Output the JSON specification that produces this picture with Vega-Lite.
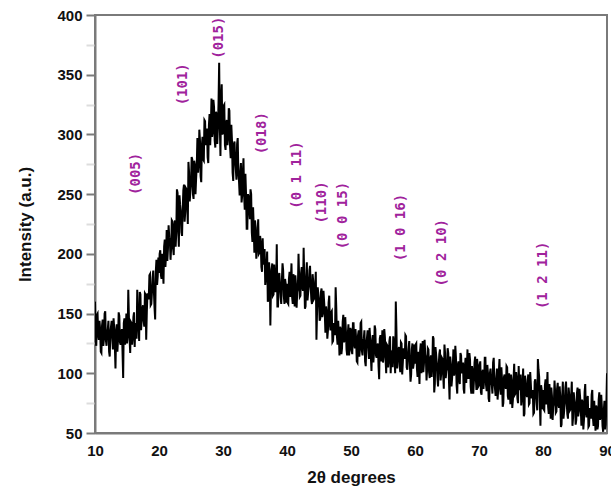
{
  "$schema": "https://vega.github.io/schema/vega-lite/v6.json",
  "width": 512,
  "height": 418,
  "autosize": {"type": "none"},
  "padding": {"left": 95, "top": 15, "right": 4, "bottom": 56},
  "background": "white",
  "config": {
    "view": {"stroke": "#7a7a7a", "strokeWidth": 2},
    "axis": {"labelFont": "Liberation Sans", "titleFont": "Liberation Sans", "labelFontWeight": "bold", "titleFontWeight": "bold", "labelColor": "#111", "titleColor": "#111", "domainColor": "#7a7a7a", "domainWidth": 2, "grid": false}
  },
  "datasets": {
    "xrd": [
{"deg":10.0,"cps":160},{"deg":10.2,"cps":123},{"deg":10.4,"cps":150},{"deg":10.6,"cps":128},{"deg":10.8,"cps":137},
{"deg":11.0,"cps":117},{"deg":11.2,"cps":145},{"deg":11.4,"cps":129},{"deg":11.6,"cps":152},{"deg":11.8,"cps":123},
{"deg":12.0,"cps":137},{"deg":12.2,"cps":118},{"deg":12.4,"cps":134},{"deg":12.6,"cps":144},{"deg":12.8,"cps":120},
{"deg":13.0,"cps":138},{"deg":13.2,"cps":104},{"deg":13.4,"cps":141},{"deg":13.6,"cps":129},{"deg":13.8,"cps":148},
{"deg":14.0,"cps":124},{"deg":14.2,"cps":137},{"deg":14.4,"cps":96},{"deg":14.6,"cps":146},{"deg":14.8,"cps":133},
{"deg":15.0,"cps":125},{"deg":15.2,"cps":170},{"deg":15.4,"cps":129},{"deg":15.6,"cps":143},{"deg":15.8,"cps":124},
{"deg":16.0,"cps":147},{"deg":16.2,"cps":122},{"deg":16.4,"cps":142},{"deg":16.6,"cps":170},{"deg":16.8,"cps":139},
{"deg":17.0,"cps":168},{"deg":17.2,"cps":136},{"deg":17.4,"cps":154},{"deg":17.6,"cps":144},{"deg":17.8,"cps":167},
{"deg":18.0,"cps":128},{"deg":18.2,"cps":167},{"deg":18.4,"cps":162},{"deg":18.6,"cps":183},{"deg":18.8,"cps":158},
{"deg":19.0,"cps":180},{"deg":19.2,"cps":169},{"deg":19.4,"cps":145},{"deg":19.6,"cps":195},{"deg":19.8,"cps":181},
{"deg":20.0,"cps":184},{"deg":20.2,"cps":203},{"deg":20.4,"cps":179},{"deg":20.6,"cps":189},{"deg":20.8,"cps":206},
{"deg":21.0,"cps":189},{"deg":21.2,"cps":220},{"deg":21.4,"cps":204},{"deg":21.6,"cps":214},{"deg":21.8,"cps":195},
{"deg":22.0,"cps":228},{"deg":22.2,"cps":205},{"deg":22.4,"cps":224},{"deg":22.6,"cps":206},{"deg":22.8,"cps":254},
{"deg":23.0,"cps":221},{"deg":23.2,"cps":249},{"deg":23.4,"cps":235},{"deg":23.6,"cps":215},{"deg":23.8,"cps":253},
{"deg":24.0,"cps":227},{"deg":24.2,"cps":255},{"deg":24.4,"cps":241},{"deg":24.6,"cps":277},{"deg":24.8,"cps":244},
{"deg":25.0,"cps":259},{"deg":25.2,"cps":279},{"deg":25.4,"cps":246},{"deg":25.6,"cps":275},{"deg":25.8,"cps":263},
{"deg":26.0,"cps":297},{"deg":26.2,"cps":275},{"deg":26.4,"cps":295},{"deg":26.6,"cps":260},{"deg":26.8,"cps":298},
{"deg":27.0,"cps":278},{"deg":27.2,"cps":311},{"deg":27.4,"cps":299},{"deg":27.6,"cps":281},{"deg":27.8,"cps":308},
{"deg":28.0,"cps":291},{"deg":28.2,"cps":330},{"deg":28.4,"cps":302},{"deg":28.6,"cps":323},{"deg":28.8,"cps":289},
{"deg":29.0,"cps":317},{"deg":29.2,"cps":305},{"deg":29.4,"cps":360},{"deg":29.6,"cps":282},{"deg":29.8,"cps":342},
{"deg":30.0,"cps":302},{"deg":30.2,"cps":325},{"deg":30.4,"cps":287},{"deg":30.6,"cps":312},{"deg":30.8,"cps":297},
{"deg":31.0,"cps":320},{"deg":31.2,"cps":280},{"deg":31.4,"cps":295},{"deg":31.6,"cps":261},{"deg":31.8,"cps":294},
{"deg":32.0,"cps":271},{"deg":32.2,"cps":292},{"deg":32.4,"cps":267},{"deg":32.6,"cps":249},{"deg":32.8,"cps":276},
{"deg":33.0,"cps":249},{"deg":33.2,"cps":280},{"deg":33.4,"cps":237},{"deg":33.6,"cps":250},{"deg":33.8,"cps":221},
{"deg":34.0,"cps":248},{"deg":34.2,"cps":229},{"deg":34.4,"cps":250},{"deg":34.6,"cps":210},{"deg":34.8,"cps":223},
{"deg":35.0,"cps":228},{"deg":35.2,"cps":196},{"deg":35.4,"cps":217},{"deg":35.6,"cps":200},{"deg":35.8,"cps":215},
{"deg":36.0,"cps":189},{"deg":36.2,"cps":213},{"deg":36.4,"cps":191},{"deg":36.6,"cps":174},{"deg":36.8,"cps":190},
{"deg":37.0,"cps":160},{"deg":37.2,"cps":193},{"deg":37.4,"cps":140},{"deg":37.6,"cps":187},{"deg":37.8,"cps":165},
{"deg":38.0,"cps":191},{"deg":38.2,"cps":168},{"deg":38.4,"cps":208},{"deg":38.6,"cps":156},{"deg":38.8,"cps":184},
{"deg":39.0,"cps":164},{"deg":39.2,"cps":178},{"deg":39.4,"cps":186},{"deg":39.6,"cps":158},{"deg":39.8,"cps":175},
{"deg":40.0,"cps":175},{"deg":40.2,"cps":158},{"deg":40.4,"cps":185},{"deg":40.6,"cps":178},{"deg":40.8,"cps":164},
{"deg":41.0,"cps":183},{"deg":41.2,"cps":156},{"deg":41.4,"cps":175},{"deg":41.6,"cps":168},{"deg":41.8,"cps":200},
{"deg":42.0,"cps":164},{"deg":42.2,"cps":184},{"deg":42.4,"cps":172},{"deg":42.6,"cps":205},{"deg":42.8,"cps":154},
{"deg":43.0,"cps":181},{"deg":43.2,"cps":161},{"deg":43.4,"cps":173},{"deg":43.6,"cps":190},{"deg":43.8,"cps":162},
{"deg":44.0,"cps":183},{"deg":44.2,"cps":162},{"deg":44.4,"cps":173},{"deg":44.6,"cps":128},{"deg":44.8,"cps":172},
{"deg":45.0,"cps":161},{"deg":45.2,"cps":146},{"deg":45.4,"cps":171},{"deg":45.6,"cps":150},{"deg":45.8,"cps":160},
{"deg":46.0,"cps":134},{"deg":46.2,"cps":151},{"deg":46.4,"cps":136},{"deg":46.6,"cps":165},{"deg":46.8,"cps":136},
{"deg":47.0,"cps":152},{"deg":47.2,"cps":127},{"deg":47.4,"cps":137},{"deg":47.6,"cps":172},{"deg":47.8,"cps":131},
{"deg":48.0,"cps":144},{"deg":48.2,"cps":115},{"deg":48.4,"cps":137},{"deg":48.6,"cps":121},{"deg":48.8,"cps":149},
{"deg":49.0,"cps":128},{"deg":49.2,"cps":136},{"deg":49.4,"cps":115},{"deg":49.6,"cps":141},{"deg":49.8,"cps":121},
{"deg":50.0,"cps":136},{"deg":50.2,"cps":116},{"deg":50.4,"cps":142},{"deg":50.6,"cps":121},{"deg":50.8,"cps":129},
{"deg":51.0,"cps":109},{"deg":51.2,"cps":136},{"deg":51.4,"cps":121},{"deg":51.6,"cps":143},{"deg":51.8,"cps":115},
{"deg":52.0,"cps":129},{"deg":52.2,"cps":110},{"deg":52.4,"cps":125},{"deg":52.6,"cps":136},{"deg":52.8,"cps":112},
{"deg":53.0,"cps":129},{"deg":53.2,"cps":102},{"deg":53.4,"cps":132},{"deg":53.6,"cps":118},{"deg":53.8,"cps":137},
{"deg":54.0,"cps":113},{"deg":54.2,"cps":125},{"deg":54.4,"cps":95},{"deg":54.6,"cps":132},{"deg":54.8,"cps":119},
{"deg":55.0,"cps":109},{"deg":55.2,"cps":137},{"deg":55.4,"cps":112},{"deg":55.6,"cps":124},{"deg":55.8,"cps":105},
{"deg":56.0,"cps":127},{"deg":56.2,"cps":100},{"deg":56.4,"cps":118},{"deg":56.6,"cps":131},{"deg":56.8,"cps":112},
{"deg":57.0,"cps":160},{"deg":57.2,"cps":104},{"deg":57.4,"cps":119},{"deg":57.6,"cps":106},{"deg":57.8,"cps":126},
{"deg":58.0,"cps":99},{"deg":58.2,"cps":121},{"deg":58.4,"cps":112},{"deg":58.6,"cps":131},{"deg":58.8,"cps":103},
{"deg":59.0,"cps":121},{"deg":59.2,"cps":107},{"deg":59.4,"cps":99},{"deg":59.6,"cps":125},{"deg":59.8,"cps":108},
{"deg":60.0,"cps":108},{"deg":60.2,"cps":125},{"deg":60.4,"cps":97},{"deg":60.6,"cps":105},{"deg":60.8,"cps":119},
{"deg":61.0,"cps":100},{"deg":61.2,"cps":127},{"deg":61.4,"cps":108},{"deg":61.6,"cps":116},{"deg":61.8,"cps":94},
{"deg":62.0,"cps":121},{"deg":62.2,"cps":101},{"deg":62.4,"cps":112},{"deg":62.6,"cps":97},{"deg":62.8,"cps":131},
{"deg":63.0,"cps":84},{"deg":63.2,"cps":122},{"deg":63.4,"cps":109},{"deg":63.6,"cps":89},{"deg":63.8,"cps":116},
{"deg":64.0,"cps":94},{"deg":64.2,"cps":113},{"deg":64.4,"cps":99},{"deg":64.6,"cps":124},{"deg":64.8,"cps":96},
{"deg":65.0,"cps":104},{"deg":65.2,"cps":117},{"deg":65.4,"cps":78},{"deg":65.6,"cps":108},{"deg":65.8,"cps":96},
{"deg":66.0,"cps":120},{"deg":66.2,"cps":101},{"deg":66.4,"cps":113},{"deg":66.6,"cps":83},{"deg":66.8,"cps":110},
{"deg":67.0,"cps":91},{"deg":67.2,"cps":115},{"deg":67.4,"cps":104},{"deg":67.6,"cps":87},{"deg":67.8,"cps":106},
{"deg":68.0,"cps":92},{"deg":68.2,"cps":120},{"deg":68.4,"cps":96},{"deg":68.6,"cps":111},{"deg":68.8,"cps":83},
{"deg":69.0,"cps":102},{"deg":69.2,"cps":93},{"deg":69.4,"cps":114},{"deg":69.6,"cps":86},{"deg":69.8,"cps":106},
{"deg":70.0,"cps":90},{"deg":70.2,"cps":110},{"deg":70.4,"cps":82},{"deg":70.6,"cps":103},{"deg":70.8,"cps":94},
{"deg":71.0,"cps":113},{"deg":71.2,"cps":85},{"deg":71.4,"cps":100},{"deg":71.6,"cps":76},{"deg":71.8,"cps":104},
{"deg":72.0,"cps":90},{"deg":72.2,"cps":109},{"deg":72.4,"cps":92},{"deg":72.6,"cps":81},{"deg":72.8,"cps":104},
{"deg":73.0,"cps":86},{"deg":73.2,"cps":112},{"deg":73.4,"cps":82},{"deg":73.6,"cps":94},{"deg":73.8,"cps":75},
{"deg":74.0,"cps":99},{"deg":74.2,"cps":87},{"deg":74.4,"cps":105},{"deg":74.6,"cps":78},{"deg":74.8,"cps":91},
{"deg":75.0,"cps":99},{"deg":75.2,"cps":71},{"deg":75.4,"cps":96},{"deg":75.6,"cps":82},{"deg":75.8,"cps":101},
{"deg":76.0,"cps":79},{"deg":76.2,"cps":106},{"deg":76.4,"cps":86},{"deg":76.6,"cps":73},{"deg":76.8,"cps":92},
{"deg":77.0,"cps":64},{"deg":77.2,"cps":98},{"deg":77.4,"cps":83},{"deg":77.6,"cps":94},{"deg":77.8,"cps":74},
{"deg":78.0,"cps":101},{"deg":78.2,"cps":79},{"deg":78.4,"cps":86},{"deg":78.6,"cps":67},{"deg":78.8,"cps":95},
{"deg":79.0,"cps":75},{"deg":79.2,"cps":112},{"deg":79.4,"cps":97},{"deg":79.6,"cps":56},{"deg":79.8,"cps":86},
{"deg":80.0,"cps":86},{"deg":80.2,"cps":69},{"deg":80.4,"cps":95},{"deg":80.6,"cps":87},{"deg":80.8,"cps":72},
{"deg":81.0,"cps":91},{"deg":81.2,"cps":62},{"deg":81.4,"cps":81},{"deg":81.6,"cps":72},{"deg":81.8,"cps":94},
{"deg":82.0,"cps":67},{"deg":82.2,"cps":87},{"deg":82.4,"cps":74},{"deg":82.6,"cps":89},{"deg":82.8,"cps":55},
{"deg":83.0,"cps":81},{"deg":83.2,"cps":62},{"deg":83.4,"cps":75},{"deg":83.6,"cps":93},{"deg":83.8,"cps":66},
{"deg":84.0,"cps":88},{"deg":84.2,"cps":69},{"deg":84.4,"cps":81},{"deg":84.6,"cps":56},{"deg":84.8,"cps":84},
{"deg":85.0,"cps":74},{"deg":85.2,"cps":61},{"deg":85.4,"cps":88},{"deg":85.6,"cps":68},{"deg":85.8,"cps":80},
{"deg":86.0,"cps":56},{"deg":86.2,"cps":75},{"deg":86.4,"cps":61},{"deg":86.6,"cps":91},{"deg":86.8,"cps":63},
{"deg":87.0,"cps":81},{"deg":87.2,"cps":56},{"deg":87.4,"cps":67},{"deg":87.6,"cps":82},{"deg":87.8,"cps":63},
{"deg":88.0,"cps":77},{"deg":88.2,"cps":52},{"deg":88.4,"cps":71},{"deg":88.6,"cps":56},{"deg":88.8,"cps":84},
{"deg":89.0,"cps":63},{"deg":89.2,"cps":72},{"deg":89.4,"cps":51},{"deg":89.6,"cps":77},{"deg":89.8,"cps":57},
{"deg":90.0,"cps":100},
{"deg":10.1,"cps":126},{"deg":10.3,"cps":149},{"deg":10.5,"cps":132},{"deg":10.7,"cps":144},{"deg":10.9,"cps":118},
{"deg":11.1,"cps":140},{"deg":11.3,"cps":123},{"deg":11.5,"cps":150},{"deg":11.7,"cps":128},{"deg":11.9,"cps":134},
{"deg":12.1,"cps":144},{"deg":12.3,"cps":114},{"deg":12.5,"cps":139},{"deg":12.7,"cps":129},{"deg":12.9,"cps":146},
{"deg":13.1,"cps":123},{"deg":13.3,"cps":135},{"deg":13.5,"cps":118},{"deg":13.7,"cps":151},{"deg":13.9,"cps":126},
{"deg":14.1,"cps":133},{"deg":14.3,"cps":118},{"deg":14.5,"cps":142},{"deg":14.7,"cps":124},{"deg":14.9,"cps":150},
{"deg":15.1,"cps":131},{"deg":15.3,"cps":147},{"deg":15.5,"cps":117},{"deg":15.7,"cps":142},{"deg":15.9,"cps":130},
{"deg":16.1,"cps":151},{"deg":16.3,"cps":139},{"deg":16.5,"cps":129},{"deg":16.7,"cps":151},{"deg":16.9,"cps":127},
{"deg":17.1,"cps":166},{"deg":17.3,"cps":145},{"deg":17.5,"cps":157},{"deg":17.7,"cps":139},{"deg":17.9,"cps":166},
{"deg":18.1,"cps":152},{"deg":18.3,"cps":164},{"deg":18.5,"cps":182},{"deg":18.7,"cps":157},{"deg":18.9,"cps":168},
{"deg":19.1,"cps":186},{"deg":19.3,"cps":155},{"deg":19.5,"cps":185},{"deg":19.7,"cps":174},{"deg":19.9,"cps":197},
{"deg":20.1,"cps":200},{"deg":20.3,"cps":182},{"deg":20.5,"cps":200},{"deg":20.7,"cps":175},{"deg":20.9,"cps":212},
{"deg":21.1,"cps":199},{"deg":21.3,"cps":194},{"deg":21.5,"cps":224},{"deg":21.7,"cps":211},{"deg":21.9,"cps":205},
{"deg":22.1,"cps":227},{"deg":22.3,"cps":199},{"deg":22.5,"cps":228},{"deg":22.7,"cps":218},{"deg":22.9,"cps":251},
{"deg":23.1,"cps":206},{"deg":23.3,"cps":241},{"deg":23.5,"cps":218},{"deg":23.7,"cps":237},{"deg":23.9,"cps":258},
{"deg":24.1,"cps":235},{"deg":24.3,"cps":254},{"deg":24.5,"cps":225},{"deg":24.7,"cps":268},{"deg":24.9,"cps":252},
{"deg":25.1,"cps":281},{"deg":25.3,"cps":250},{"deg":25.5,"cps":278},{"deg":25.7,"cps":250},{"deg":25.9,"cps":274},
{"deg":26.1,"cps":268},{"deg":26.3,"cps":304},{"deg":26.5,"cps":265},{"deg":26.7,"cps":291},{"deg":26.9,"cps":279},
{"deg":27.1,"cps":312},{"deg":27.3,"cps":291},{"deg":27.5,"cps":305},{"deg":27.7,"cps":276},{"deg":27.9,"cps":317},
{"deg":28.1,"cps":306},{"deg":28.3,"cps":298},{"deg":28.5,"cps":329},{"deg":28.7,"cps":295},{"deg":28.9,"cps":319},
{"deg":29.1,"cps":292},{"deg":29.3,"cps":326},{"deg":29.5,"cps":309},{"deg":29.7,"cps":330},{"deg":29.9,"cps":300},
{"deg":30.1,"cps":324},{"deg":30.3,"cps":291},{"deg":30.5,"cps":310},{"deg":30.7,"cps":291},{"deg":30.9,"cps":322},
{"deg":31.1,"cps":290},{"deg":31.3,"cps":308},{"deg":31.5,"cps":268},{"deg":31.7,"cps":292},{"deg":31.9,"cps":279},
{"deg":32.1,"cps":262},{"deg":32.3,"cps":297},{"deg":32.5,"cps":261},{"deg":32.7,"cps":269},{"deg":32.9,"cps":243},
{"deg":33.1,"cps":268},{"deg":33.3,"cps":249},{"deg":33.5,"cps":267},{"deg":33.7,"cps":221},{"deg":33.9,"cps":250},
{"deg":34.1,"cps":237},{"deg":34.3,"cps":254},{"deg":34.5,"cps":218},{"deg":34.7,"cps":239},{"deg":34.9,"cps":201},
{"deg":35.1,"cps":222},{"deg":35.3,"cps":203},{"deg":35.5,"cps":229},{"deg":35.7,"cps":201},{"deg":35.9,"cps":209},
{"deg":36.1,"cps":185},{"deg":36.3,"cps":196},{"deg":36.5,"cps":204},{"deg":36.7,"cps":180},{"deg":36.9,"cps":202},
{"deg":37.1,"cps":162},{"deg":37.3,"cps":184},{"deg":37.5,"cps":173},{"deg":37.7,"cps":192},{"deg":37.9,"cps":166},
{"deg":38.1,"cps":181},{"deg":38.3,"cps":171},{"deg":38.5,"cps":156},{"deg":38.7,"cps":182},{"deg":38.9,"cps":174},
{"deg":39.1,"cps":158},{"deg":39.3,"cps":192},{"deg":39.5,"cps":165},{"deg":39.7,"cps":179},{"deg":39.9,"cps":159},
{"deg":40.1,"cps":159},{"deg":40.3,"cps":179},{"deg":40.5,"cps":164},{"deg":40.7,"cps":192},{"deg":40.9,"cps":158},
{"deg":41.1,"cps":173},{"deg":41.3,"cps":182},{"deg":41.5,"cps":155},{"deg":41.7,"cps":171},{"deg":41.9,"cps":180},
{"deg":42.1,"cps":165},{"deg":42.3,"cps":189},{"deg":42.5,"cps":169},{"deg":42.7,"cps":179},{"deg":42.9,"cps":156},
{"deg":43.1,"cps":193},{"deg":43.3,"cps":167},{"deg":43.5,"cps":186},{"deg":43.7,"cps":173},{"deg":43.9,"cps":158},
{"deg":44.1,"cps":177},{"deg":44.3,"cps":163},{"deg":44.5,"cps":185},{"deg":44.7,"cps":153},{"deg":44.9,"cps":166},
{"deg":45.1,"cps":144},{"deg":45.3,"cps":168},{"deg":45.5,"cps":147},{"deg":45.7,"cps":169},{"deg":45.9,"cps":151},
{"deg":46.1,"cps":156},{"deg":46.3,"cps":129},{"deg":46.5,"cps":159},{"deg":46.7,"cps":141},{"deg":46.9,"cps":151},
{"deg":47.1,"cps":126},{"deg":47.3,"cps":142},{"deg":47.5,"cps":132},{"deg":47.7,"cps":155},{"deg":47.9,"cps":124},
{"deg":48.1,"cps":133},{"deg":48.3,"cps":139},{"deg":48.5,"cps":116},{"deg":48.7,"cps":143},{"deg":48.9,"cps":126},
{"deg":49.1,"cps":147},{"deg":49.3,"cps":120},{"deg":49.5,"cps":133},{"deg":49.7,"cps":115},{"deg":49.9,"cps":138},
{"deg":50.1,"cps":119},{"deg":50.3,"cps":142},{"deg":50.5,"cps":124},{"deg":50.7,"cps":137},{"deg":50.9,"cps":110},
{"deg":51.1,"cps":132},{"deg":51.3,"cps":114},{"deg":51.5,"cps":142},{"deg":51.7,"cps":119},{"deg":51.9,"cps":126},
{"deg":52.1,"cps":136},{"deg":52.3,"cps":106},{"deg":52.5,"cps":130},{"deg":52.7,"cps":121},{"deg":52.9,"cps":138},
{"deg":53.1,"cps":114},{"deg":53.3,"cps":126},{"deg":53.5,"cps":109},{"deg":53.7,"cps":140},{"deg":53.9,"cps":115},
{"deg":54.1,"cps":122},{"deg":54.3,"cps":106},{"deg":54.5,"cps":129},{"deg":54.7,"cps":110},{"deg":54.9,"cps":136},
{"deg":55.1,"cps":115},{"deg":55.3,"cps":130},{"deg":55.5,"cps":100},{"deg":55.7,"cps":123},{"deg":55.9,"cps":111},
{"deg":56.1,"cps":131},{"deg":56.3,"cps":117},{"deg":56.5,"cps":105},{"deg":56.7,"cps":125},{"deg":56.9,"cps":100},
{"deg":57.1,"cps":136},{"deg":57.3,"cps":113},{"deg":57.5,"cps":122},{"deg":57.7,"cps":101},{"deg":57.9,"cps":125},
{"deg":58.1,"cps":109},{"deg":58.3,"cps":118},{"deg":58.5,"cps":132},{"deg":58.7,"cps":105},{"deg":58.9,"cps":113},
{"deg":59.1,"cps":127},{"deg":59.3,"cps":93},{"deg":59.5,"cps":120},{"deg":59.7,"cps":104},{"deg":59.9,"cps":124},
{"deg":60.1,"cps":124},{"deg":60.3,"cps":104},{"deg":60.5,"cps":118},{"deg":60.7,"cps":91},{"deg":60.9,"cps":125},
{"deg":61.1,"cps":110},{"deg":61.3,"cps":101},{"deg":61.5,"cps":128},{"deg":61.7,"cps":113},{"deg":61.9,"cps":104},
{"deg":62.1,"cps":120},{"deg":62.3,"cps":96},{"deg":62.5,"cps":115},{"deg":62.7,"cps":106},{"deg":62.9,"cps":129},
{"deg":63.1,"cps":91},{"deg":63.3,"cps":116},{"deg":63.5,"cps":96},{"deg":63.7,"cps":106},{"deg":63.9,"cps":120},
{"deg":64.1,"cps":100},{"deg":64.3,"cps":112},{"deg":64.5,"cps":87},{"deg":64.7,"cps":117},{"deg":64.9,"cps":102},
{"deg":65.1,"cps":121},{"deg":65.3,"cps":95},{"deg":65.5,"cps":114},{"deg":65.7,"cps":89},{"deg":65.9,"cps":105},
{"deg":66.1,"cps":98},{"deg":66.3,"cps":123},{"deg":66.5,"cps":90},{"deg":66.7,"cps":107},{"deg":66.9,"cps":95},
{"deg":67.1,"cps":117},{"deg":67.3,"cps":100},{"deg":67.5,"cps":109},{"deg":67.7,"cps":83},{"deg":67.9,"cps":113},
{"deg":68.1,"cps":103},{"deg":68.3,"cps":96},{"deg":68.5,"cps":117},{"deg":68.7,"cps":89},{"deg":68.9,"cps":106},
{"deg":69.1,"cps":83},{"deg":69.3,"cps":109},{"deg":69.5,"cps":96},{"deg":69.7,"cps":112},{"deg":69.9,"cps":89},
{"deg":70.1,"cps":107},{"deg":70.3,"cps":84},{"deg":70.5,"cps":100},{"deg":70.7,"cps":87},{"deg":70.9,"cps":113},
{"deg":71.1,"cps":90},{"deg":71.3,"cps":107},{"deg":71.5,"cps":79},{"deg":71.7,"cps":100},{"deg":71.9,"cps":93},
{"deg":72.1,"cps":83},{"deg":72.3,"cps":113},{"deg":72.5,"cps":87},{"deg":72.7,"cps":96},{"deg":72.9,"cps":78},
{"deg":73.1,"cps":101},{"deg":73.3,"cps":88},{"deg":73.5,"cps":105},{"deg":73.7,"cps":72},{"deg":73.9,"cps":97},
{"deg":74.1,"cps":90},{"deg":74.3,"cps":106},{"deg":74.5,"cps":81},{"deg":74.7,"cps":100},{"deg":74.9,"cps":74},
{"deg":75.1,"cps":93},{"deg":75.3,"cps":78},{"deg":75.5,"cps":108},{"deg":75.7,"cps":83},{"deg":75.9,"cps":95},
{"deg":76.1,"cps":75},{"deg":76.3,"cps":89},{"deg":76.5,"cps":99},{"deg":76.7,"cps":79},{"deg":76.9,"cps":104},
{"deg":77.1,"cps":66},{"deg":77.3,"cps":89},{"deg":77.5,"cps":80},{"deg":77.7,"cps":99},{"deg":77.9,"cps":75},
{"deg":78.1,"cps":91},{"deg":78.3,"cps":82},{"deg":78.5,"cps":66},{"deg":78.7,"cps":93},{"deg":78.9,"cps":85},
{"deg":79.1,"cps":69},{"deg":79.3,"cps":103},{"deg":79.5,"cps":76},{"deg":79.7,"cps":90},{"deg":79.9,"cps":70},
{"deg":80.1,"cps":70},{"deg":80.3,"cps":90},{"deg":80.5,"cps":74},{"deg":80.7,"cps":101},{"deg":80.9,"cps":66},
{"deg":81.1,"cps":81},{"deg":81.3,"cps":88},{"deg":81.5,"cps":61},{"deg":81.7,"cps":75},{"deg":81.9,"cps":84},
{"deg":82.1,"cps":68},{"deg":82.3,"cps":92},{"deg":82.5,"cps":71},{"deg":82.7,"cps":80},{"deg":82.9,"cps":57},
{"deg":83.1,"cps":93},{"deg":83.3,"cps":68},{"deg":83.5,"cps":88},{"deg":83.7,"cps":76},{"deg":83.9,"cps":62},
{"deg":84.1,"cps":82},{"deg":84.3,"cps":70},{"deg":84.5,"cps":93},{"deg":84.7,"cps":63},{"deg":84.9,"cps":78},
{"deg":85.1,"cps":57},{"deg":85.3,"cps":83},{"deg":85.5,"cps":64},{"deg":85.7,"cps":87},{"deg":85.9,"cps":71},
{"deg":86.1,"cps":78},{"deg":86.3,"cps":53},{"deg":86.5,"cps":84},{"deg":86.7,"cps":67},{"deg":86.9,"cps":78},
{"deg":87.1,"cps":55},{"deg":87.3,"cps":71},{"deg":87.5,"cps":62},{"deg":87.7,"cps":86},{"deg":87.9,"cps":56},
{"deg":88.1,"cps":66},{"deg":88.3,"cps":73},{"deg":88.5,"cps":53},{"deg":88.7,"cps":78},{"deg":88.9,"cps":61},
{"deg":89.1,"cps":82},{"deg":89.3,"cps":56},{"deg":89.5,"cps":69},{"deg":89.7,"cps":53},{"deg":89.9,"cps":74}
    ],
    "hkl": [
      {"deg": 16.4, "cps": 267, "plane": "(005)"},
      {"deg": 23.75, "cps": 342, "plane": "(101)"},
      {"deg": 29.4, "cps": 381, "plane": "(015)"},
      {"deg": 36.1, "cps": 301, "plane": "(018)"},
      {"deg": 41.6, "cps": 266, "plane": "(0 1 11)"},
      {"deg": 45.5, "cps": 243, "plane": "(110)"},
      {"deg": 48.75, "cps": 232, "plane": "(0 0 15)"},
      {"deg": 57.8, "cps": 222, "plane": "(1 0 16)"},
      {"deg": 64.2, "cps": 201, "plane": "(0 2 10)"},
      {"deg": 80.0, "cps": 182, "plane": "(1 2 11)"}
    ]
  },
  "encoding": {
    "x": {
      "field": "deg", "type": "quantitative",
      "scale": {"domain": [10, 90], "nice": false, "zero": false},
      "axis": {
        "title": "2θ degrees", "titleFontSize": 17, "titlePadding": 11,
        "values": [10, 20, 30, 40, 50, 60, 70, 80, 90],
        "labelFontSize": 15, "labelFlush": false, "ticks": false, "labelPadding": 10, "labelOverlap": false
      }
    },
    "y": {
      "field": "cps", "type": "quantitative",
      "scale": {"domain": [50, 400], "nice": false, "zero": false},
      "axis": {
        "title": "Intensity (a.u.)", "titleFontSize": 17, "titlePadding": 22,
        "values": [50, 75, 100, 125, 150, 175, 200, 225, 250, 275, 300, 325, 350, 375, 400],
        "labelExpr": "datum.value % 50 === 0 ? datum.label : ''",
        "labelFontSize": 15, "labelPadding": 4, "labelOverlap": false,
        "tickSize": 9,
        "tickColor": {"condition": {"test": "datum.value % 50 === 0", "value": "#7a7a7a"}, "value": "#dddddd"},
        "tickWidth": 2
      }
    }
  },
  "layer": [
    {
      "data": {"name": "xrd"},
      "mark": {"type": "line", "color": "#000000", "strokeWidth": 2, "clip": true},
      "encoding": {"order": {"field": "deg", "type": "quantitative"}}
    },
    {
      "data": {"name": "hkl"},
      "mark": {"type": "text", "angle": 270, "align": "center", "baseline": "middle", "font": "DejaVu Sans Mono", "fontWeight": "bold", "fontSize": 14, "color": "#a0229c"},
      "encoding": {"text": {"field": "plane"}}
    },
    {
      "data": {"values": [{}]},
      "mark": {"type": "text", "text": "JCPDS Card No.33-0214", "align": "right", "baseline": "middle", "font": "Liberation Sans", "fontWeight": "bold", "fontSize": 19, "color": "#8b1c1c"},
      "encoding": {"x": {"datum": 86.6}, "y": {"datum": 386}}
    }
  ]
}
